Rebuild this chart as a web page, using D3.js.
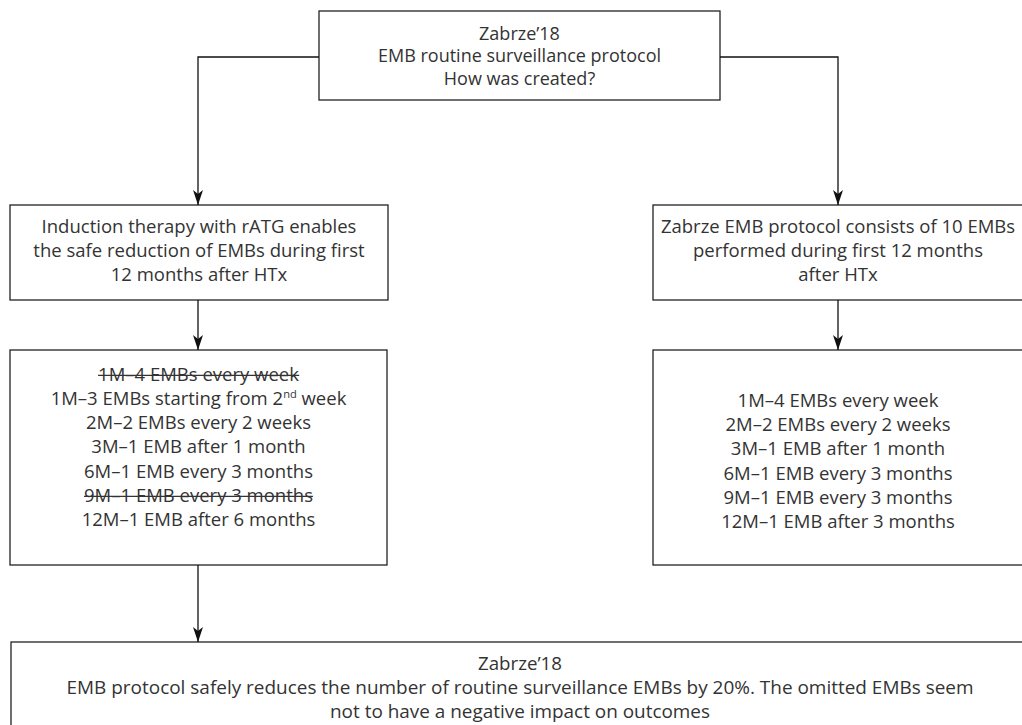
<!DOCTYPE html>
<html>
<head>
<meta charset="utf-8">
<script src="https://cdn.jsdelivr.net/npm/d3@7"></script>
<style>
  body { margin: 0; background: #fff; }
  svg text { font-family: "Open Sans", "Noto Sans", sans-serif; fill: #333; }
</style>
</head>
<body>
<div id="chart"></div>
<script>
var width = 1022;
var height = 725;

// box texts
var topLines = ["Zabrze\u201918", "EMB routine surveillance protocol", "How was created?"];
var leftMidLines = ["Induction therapy with rATG enables", "the safe reduction of EMBs during first", "12 months after HTx"];
var rightMidLines = ["Zabrze EMB protocol consists of 10 EMBs", "performed during first 12 months", "after HTx"];
var leftListLines = ["1M\u20134 EMBs every week", "1M\u20133 EMBs starting from 2|nd| week", "2M\u20132 EMBs every 2 weeks",
  "3M\u20131 EMB after 1 month", "6M\u20131 EMB every 3 months", "9M\u20131 EMB every 3 months", "12M\u20131 EMB after 6 months"];
var leftStruck = [true, false, false, false, false, true, false];
var rightListLines = ["1M\u20134 EMBs every week", "2M\u20132 EMBs every 2 weeks", "3M\u20131 EMB after 1 month",
  "6M\u20131 EMB every 3 months", "9M\u20131 EMB every 3 months", "12M\u20131 EMB after 3 months"];
var bottomLines = ["Zabrze\u201918",
  "EMB protocol safely reduces the number of routine surveillance EMBs by 20%. The omitted EMBs seem",
  "not to have a negative impact on outcomes"];

var svg = d3.select("#chart").append("svg")
  .attr("width", width)
  .attr("height", height);

var stroke = "#222";
var fontSize = 18.5;

function drawBox(x, y, w, h) {
  svg.append("rect")
    .attr("x", x).attr("y", y)
    .attr("width", w).attr("height", h)
    .attr("fill", "none")
    .attr("stroke", stroke)
    .attr("stroke-width", 1.3);
}

function drawLines(lines, cx, cy, lh, struck, squeeze, size) {
  var fs = size || fontSize;
  var y0 = cy - (lines.length - 1) * lh / 2;
  lines.forEach(function(line, i) {
    var t = svg.append("text")
      .attr("x", cx)
      .attr("y", y0 + i * lh)
      .attr("dy", "0.35em")
      .attr("text-anchor", "middle")
      .attr("font-size", fs);
    var parts = line.split("|");
    parts.forEach(function(p, j) {
      var ts = t.append("tspan").text(p);
      if (j % 2 === 1) {
        ts.attr("font-size", fs * 0.6).attr("baseline-shift", "super");
      }
    });
    if (squeeze && squeeze[i]) {
      t.attr("textLength", squeeze[i]).attr("lengthAdjust", "spacingAndGlyphs");
    }
    if (struck && struck[i]) {
      var bb = t.node().getBBox();
      svg.append("line")
        .attr("x1", bb.x).attr("x2", bb.x + bb.width)
        .attr("y1", y0 + i * lh + 1).attr("y2", y0 + i * lh + 1)
        .attr("stroke", "#333")
        .attr("stroke-width", 1.2);
    }
  });
}

function arrowHead(x, y) {
  svg.append("path")
    .attr("d", "M" + x + "," + y + " L" + (x - 5) + "," + (y - 15) +
      " L" + x + "," + (y - 11) + " L" + (x + 5) + "," + (y - 15) + "Z")
    .attr("fill", "#111");
}

function connector(points) {
  svg.append("path")
    .attr("d", d3.line()(points))
    .attr("fill", "none")
    .attr("stroke", "#111")
    .attr("stroke-width", 1.3);
  var end = points[points.length - 1];
  arrowHead(end[0], end[1]);
}

// boxes
drawBox(319, 11, 401, 89);
drawBox(10, 205, 378, 95);
drawBox(653, 205, 400, 95);
drawBox(10, 350, 377, 215);
drawBox(653, 350, 400, 215);
drawBox(11, 642, 1040, 100);

// connectors
connector([[319, 57], [198, 57], [198, 205]]);
connector([[720, 57], [838, 57], [838, 205]]);
connector([[198, 300], [198, 350]]);
connector([[838, 300], [838, 350]]);
connector([[198, 565], [198, 642]]);

// texts
drawLines(topLines, 519.5, 56, 22.5, null, null, 18);
drawLines(leftMidLines, 199, 251, 24);
drawLines(rightMidLines, 838, 251, 24);
drawLines(leftListLines, 198.5, 447, 24.2, leftStruck);
drawLines(rightListLines, 838, 461, 24.2);
drawLines(bottomLines, 520, 688, 24, null, [84, 907, 380]);
</script>
</body>
</html>
